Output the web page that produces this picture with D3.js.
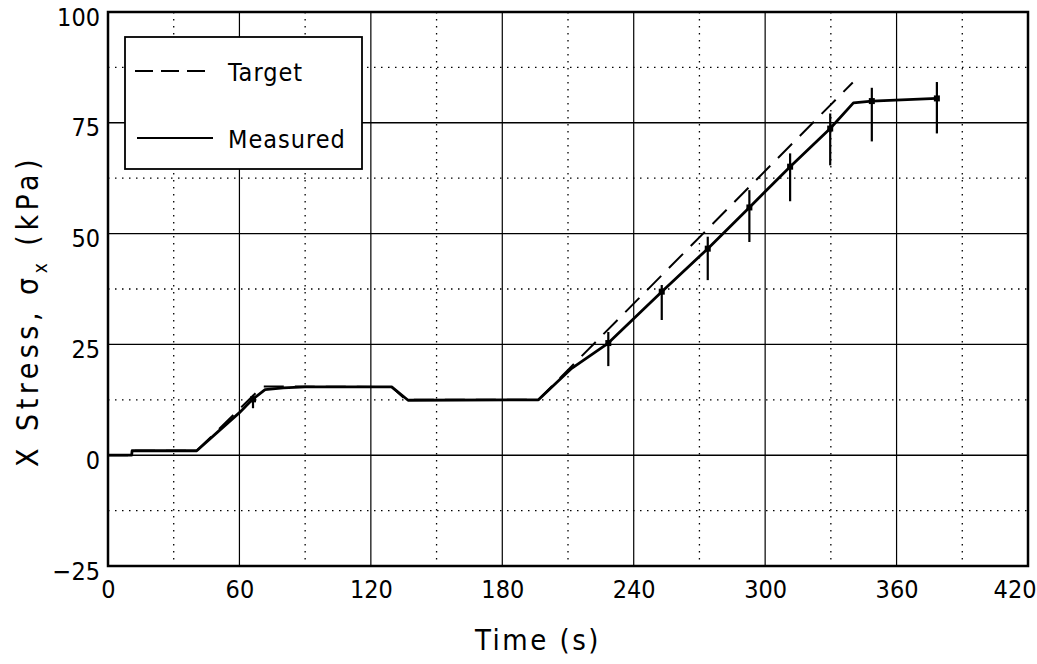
<!DOCTYPE html>
<html>
<head>
<meta charset="utf-8">
<script src="https://cdn.jsdelivr.net/npm/d3@7"></script>
<style>
  body { margin: 0; background: #fff; }
  text { font-family: "DejaVu Sans Condensed", "Liberation Sans Narrow", "DejaVu Sans", sans-serif; fill: #000; }
</style>
</head>
<body>
<div id="chart"></div>
<script>
// measured stress vs time
const measuredT = [0, 10.8, 11, 40.5, 50, 60, 66, 71.7, 80, 90, 129.5, 137, 196.5, 211.7, 228.4, 252.8, 273.8, 292.8, 311.4, 329.7, 340.3, 348.7, 378.4];
const measuredV = [0, 0, 1, 1, 5.2, 9.6, 12.6, 14.8, 15.2, 15.4, 15.4, 12.4, 12.5, 19.6, 25.3, 36.9, 46.6, 55.9, 65.1, 73.7, 79.5, 79.9, 80.5];

// target stress vs time
const targetT = [0, 10.8, 11, 40.5, 70.5, 129.5, 136, 196.5, 340];
const targetV = [0, 0, 1, 1, 15.5, 15.4, 12.5, 12.5, 84.1];

// vertical bars on the measured curve
const barT  = [66.2, 228.4, 252.8, 273.8, 292.8, 311.4, 329.7, 348.7, 378.4];
const barV  = [12.6, 25.3, 36.9, 46.6, 55.9, 65.1, 73.7, 79.9, 80.5];
const barLo = [10.6, 20.1, 30.5, 39.5, 48.1, 57.3, 65.4, 70.8, 72.6];
const barHi = [13.6, 27.8, 38.4, 49.3, 59.8, 68.1, 77.1, 82.9, 84.2];

const xTicks = [0, 60, 120, 180, 240, 300, 360, 420];
const yTicks = [-25, 0, 25, 50, 75, 100];
const xMinor = [30, 90, 150, 210, 270, 330, 390];
const yMinor = [-12.5, 12.5, 37.5, 62.5, 87.5];

const margin = { top: 12, right: 9, bottom: 98, left: 108 };
const W = 1037, H = 664;
const width = W - margin.left - margin.right;   // 920
const height = H - margin.top - margin.bottom;  // 554

const svg = d3.select("#chart").append("svg")
  .attr("width", W)
  .attr("height", H);

const g = svg.append("g")
  .attr("transform", `translate(${margin.left},${margin.top})`);

const x = d3.scaleLinear().domain([0, 420]).range([0, width]);
const y = d3.scaleLinear().domain([-25, 100]).range([height, 0]);

// dotted minor grid
g.selectAll(".vminor").data(xMinor).enter().append("line")
  .attr("x1", d => x(d)).attr("x2", d => x(d))
  .attr("y1", 0).attr("y2", height)
  .attr("stroke", "#000").attr("stroke-width", 1.3)
  .attr("stroke-dasharray", "1.5,5.5");
g.selectAll(".hminor").data(yMinor).enter().append("line")
  .attr("x1", 0).attr("x2", width)
  .attr("y1", d => y(d)).attr("y2", d => y(d))
  .attr("stroke", "#000").attr("stroke-width", 1.3)
  .attr("stroke-dasharray", "1.5,5.5");

// solid major grid
g.selectAll(".vmajor").data(xTicks).enter().append("line")
  .attr("x1", d => x(d)).attr("x2", d => x(d))
  .attr("y1", 0).attr("y2", height)
  .attr("stroke", "#000").attr("stroke-width", 1.2);
g.selectAll(".hmajor").data(yTicks).enter().append("line")
  .attr("x1", 0).attr("x2", width)
  .attr("y1", d => y(d)).attr("y2", d => y(d))
  .attr("stroke", "#000").attr("stroke-width", 1.4);

// frame
g.append("rect")
  .attr("width", width).attr("height", height)
  .attr("fill", "none").attr("stroke", "#000").attr("stroke-width", 2.5);

// tick labels
const xAxis = g.append("g")
  .attr("transform", `translate(0,${height})`)
  .call(d3.axisBottom(x).tickValues(xTicks).tickSize(0).tickPadding(0));
xAxis.select(".domain").remove();
xAxis.selectAll("text")
  .attr("y", 32)
  .attr("dy", 0)
  .style("font-size", "25px")
  .style("font-family", null)
  .filter(d => d === 420)
  .attr("text-anchor", "end")
  .attr("x", 8);

const yAxis = g.append("g")
  .call(d3.axisLeft(y).tickValues(yTicks).tickSize(0).tickPadding(8).tickFormat(d => d < 0 ? "\u2212" + Math.abs(d) : d));
yAxis.select(".domain").remove();
yAxis.selectAll("text")
  .attr("dy", "0.6em")
  .attr("y", -2)
  .style("font-size", "25px")
  .style("font-family", null);

// curves
const line = d3.line().x(d => x(d[0])).y(d => y(d[1]));
const measured = measuredT.map((t, i) => [t, measuredV[i]]);
const target = targetT.map((t, i) => [t, targetV[i]]);

g.append("path").datum(measured)
  .attr("d", line)
  .attr("fill", "none").attr("stroke", "#000").attr("stroke-width", 2.8)
  .attr("stroke-linejoin", "round");

g.append("path").datum(target)
  .attr("d", line)
  .attr("fill", "none").attr("stroke", "#000").attr("stroke-width", 2)
  .attr("stroke-dasharray", "20,11");

// vertical bars with a mark at the measured value
g.selectAll(".bar").data(barT).enter().append("line")
  .attr("x1", d => x(d)).attr("x2", d => x(d))
  .attr("y1", (d, i) => y(barLo[i])).attr("y2", (d, i) => y(barHi[i]))
  .attr("stroke", "#000").attr("stroke-width", 2.2);
g.selectAll(".mark").data(barT).enter().append("rect")
  .attr("x", d => x(d) - 3).attr("y", (d, i) => y(barV[i]) - 3)
  .attr("width", 6).attr("height", 6).attr("fill", "#000");

// legend
const legend = svg.append("g").attr("transform", "translate(125,37)");
legend.append("rect")
  .attr("width", 237).attr("height", 132)
  .attr("fill", "#fff").attr("stroke", "#000").attr("stroke-width", 1.8);
legend.append("line")
  .attr("x1", 10).attr("x2", 88).attr("y1", 34).attr("y2", 34)
  .attr("stroke", "#000").attr("stroke-width", 2)
  .attr("stroke-dasharray", "18,8");
legend.append("line")
  .attr("x1", 12).attr("x2", 88).attr("y1", 101).attr("y2", 101)
  .attr("stroke", "#000").attr("stroke-width", 2);
legend.append("text").attr("x", 103).attr("y", 44).style("font-size", "25px").style("letter-spacing", "1px").text("Target");
legend.append("text").attr("x", 103).attr("y", 111).style("font-size", "25px").style("letter-spacing", "1px").text("Measured");

// axis titles
svg.append("text")
  .attr("x", 538).attr("y", 650)
  .attr("text-anchor", "middle")
  .style("font-size", "29px")
  .style("letter-spacing", "2.5px")
  .text("Time (s)");

const yl = svg.append("text")
  .attr("transform", "translate(38,311) rotate(-90)")
  .attr("text-anchor", "middle")
  .style("font-size", "30px")
  .style("letter-spacing", "4.5px");
yl.append("tspan").text("X Stress, \u03c3");
yl.append("tspan").attr("dy", 9).style("font-size", "19px").text("x");
yl.append("tspan").attr("dy", -9).text(" (kPa)");
</script>
</body>
</html>
